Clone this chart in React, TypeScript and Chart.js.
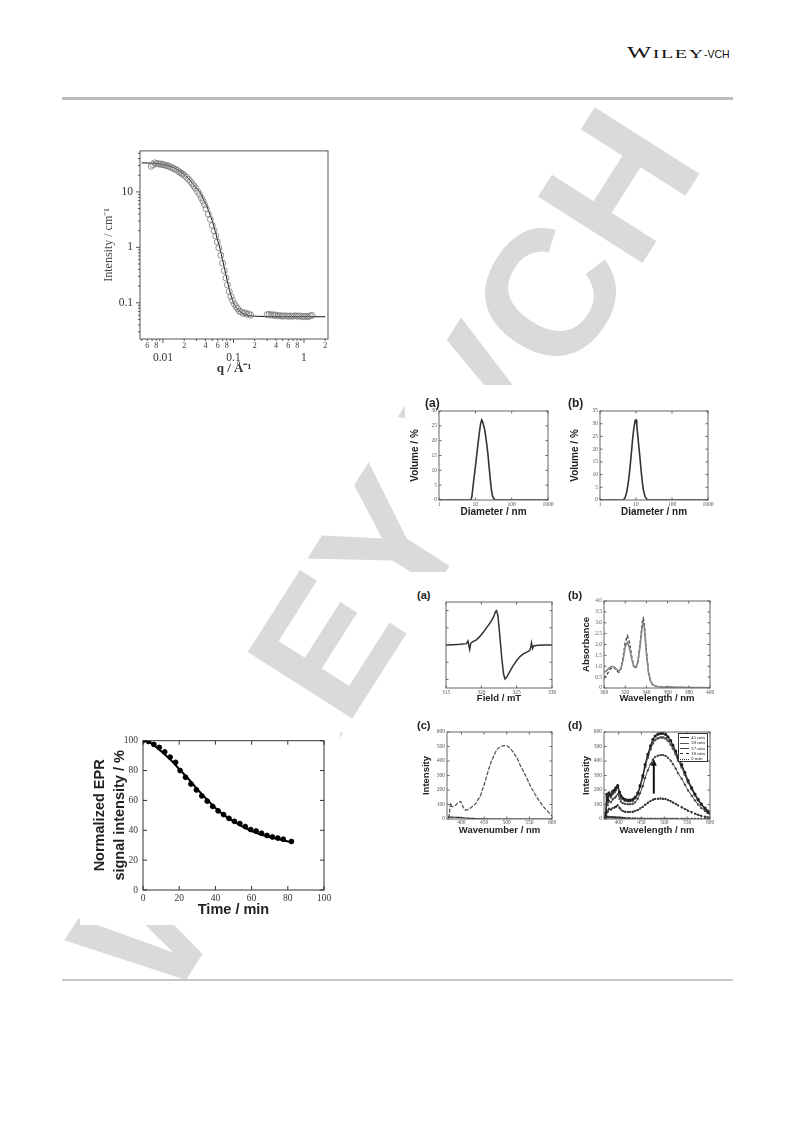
import React, { useEffect, useRef } from 'react';
import { Chart, registerables } from 'chart.js';

Chart.register(...registerables);

const SERIF = "'Liberation Serif', 'Times New Roman', serif";
const SANS = "'Liberation Sans', Arial, sans-serif";

// ---------------- SAXS (top left) ----------------
const saxsFitQ = [0.005, 0.007, 0.009, 0.011, 0.013, 0.015, 0.018, 0.021, 0.024, 0.027, 0.030, 0.034, 0.038, 0.042, 0.046, 0.050, 0.055, 0.060, 0.065, 0.070, 0.075, 0.080, 0.085, 0.090, 0.095, 0.100, 0.110, 0.120, 0.135, 0.150, 0.180, 0.220, 0.300, 0.500, 1.0, 2.0];
const saxsFitI = [33.5, 33, 32, 30.5, 28.5, 26.5, 23, 19.5, 16.5, 13.5, 11.5, 9.5, 7, 5.5, 4, 3, 1.95, 1.3, 0.9, 0.6, 0.4, 0.28, 0.2, 0.15, 0.12, 0.1, 0.082, 0.072, 0.065, 0.061, 0.058, 0.057, 0.0565, 0.0562, 0.056, 0.056];
const saxsQ = [0.0068, 0.0072, 0.0076, 0.008, 0.0085, 0.009, 0.0095, 0.010, 0.0106, 0.0112, 0.0118, 0.0125, 0.0133, 0.0141, 0.015, 0.016, 0.017, 0.018, 0.019, 0.020, 0.0215, 0.023, 0.0245, 0.026, 0.0275, 0.029, 0.031, 0.033, 0.035, 0.037, 0.039, 0.041, 0.044, 0.047, 0.050, 0.053, 0.056, 0.059, 0.062, 0.066, 0.070, 0.074, 0.078, 0.082, 0.087, 0.092, 0.097, 0.103, 0.109, 0.115, 0.122, 0.130, 0.138, 0.146, 0.155, 0.165, 0.175];
const saxsI = [29, 31, 33.5, 32, 32.5, 31.5, 32, 31, 30.5, 30, 29.5, 28.5, 27.5, 26.5, 25.5, 24.5, 23, 22, 21, 20, 18.5, 17, 15.5, 14, 12.8, 11.6, 10.2, 9, 7.8, 6.8, 5.9, 5.0, 4.0, 3.2, 2.5, 2.0, 1.6, 1.25, 0.98, 0.72, 0.52, 0.38, 0.28, 0.21, 0.16, 0.13, 0.11, 0.095, 0.085, 0.078, 0.07, 0.068, 0.064, 0.066, 0.062, 0.063, 0.06];
const saxsQ2 = [0.30, 0.32, 0.34, 0.36, 0.38, 0.40, 0.43, 0.46, 0.49, 0.52, 0.56, 0.60, 0.64, 0.68, 0.73, 0.78, 0.83, 0.89, 0.95, 1.01, 1.08, 1.15, 1.22, 1.30];
const saxsI2 = [0.061, 0.062, 0.06, 0.061, 0.059, 0.06, 0.058, 0.059, 0.057, 0.058, 0.058, 0.057, 0.058, 0.057, 0.058, 0.058, 0.057, 0.058, 0.056, 0.057, 0.057, 0.056, 0.058, 0.059];
const saxsXTickValues = [0.005, 0.006, 0.007, 0.008, 0.009, 0.01, 0.02, 0.03, 0.04, 0.05, 0.06, 0.07, 0.08, 0.09, 0.1, 0.2, 0.3, 0.4, 0.5, 0.6, 0.7, 0.8, 0.9, 1, 2];
const saxsXTickLabels = ['', '6', '', '8', '', '0.01', '2', '', '4', '', '6', '', '8', '', '0.1', '2', '', '4', '', '6', '', '8', '', '1', '2'];
const saxsXMajor = [0.01, 0.1, 1];
const saxsYTickValues = [0.03, 0.04, 0.05, 0.06, 0.07, 0.08, 0.09, 0.1, 0.2, 0.3, 0.4, 0.5, 0.6, 0.7, 0.8, 0.9, 1, 2, 3, 4, 5, 6, 7, 8, 9, 10, 20, 30, 40, 50];
const saxsYMajor = [0.1, 1, 10];

// ---------------- DLS ----------------
const dlsADiam = [1, 7.5, 8, 8.5, 9, 10, 11, 12, 13, 14, 15, 16, 17, 18, 19, 20, 22, 24, 26, 28, 30, 33, 36, 1000];
const dlsAVol = [0, 0, 1, 3.8, 6.5, 11, 15.5, 19.5, 23, 25.8, 27, 26.3, 25, 23.8, 22, 20, 16, 11, 6.5, 3, 1.2, 0.3, 0, 0];
const dlsBDiam = [1, 4.5, 5, 5.5, 6, 6.5, 7, 7.5, 8, 8.5, 9, 9.5, 10, 10.5, 11, 12, 13, 14, 15, 16, 18, 20, 22, 1000];
const dlsBVol = [0, 0, 1, 3, 6, 10, 14.5, 19, 23.5, 27, 29.5, 31.3, 31.5, 29.5, 26.5, 21, 16, 11, 7, 4, 1.2, 0.3, 0, 0];
const dlsXTicks = [1, 10, 100, 1000];

// ---------------- EPR spectrum ----------------
const eprField = [315, 316, 317, 317.9, 318.1, 318.25, 318.35, 318.5, 318.8, 319.3, 319.8, 320.3, 320.8, 321.3, 321.7, 322.0, 322.15, 322.35, 322.6, 322.9, 323.15, 323.35, 323.6, 324.0, 324.5, 325.0, 325.5, 326.0, 326.5, 326.85, 327.0, 327.1, 327.25, 327.4, 328, 329, 330];
const eprSignal = [0, 0.01, 0.02, 0.04, 0.12, -0.03, -0.13, 0.05, 0.1, 0.15, 0.25, 0.38, 0.52, 0.66, 0.8, 0.97, 1.0, 0.85, 0.3, -0.4, -0.85, -0.99, -0.93, -0.78, -0.6, -0.45, -0.33, -0.25, -0.2, -0.16, -0.06, 0.06, -0.1, -0.03, -0.01, 0, 0];

// ---------------- Absorbance ----------------
const absWl = [300, 302, 304, 306, 308, 310, 312, 314, 316, 318, 320, 322, 324, 326, 328, 330, 332, 334, 336, 337, 338, 340, 342, 344, 346, 348, 350, 355, 360, 370, 380, 390, 400];
const absSolid = [0.72, 0.78, 0.88, 0.97, 1.0, 0.95, 0.85, 0.78, 0.9, 1.3, 1.9, 2.1, 1.85, 1.35, 1.0, 0.95, 1.2, 1.9, 2.8, 3.0, 2.8, 1.6, 0.7, 0.3, 0.15, 0.1, 0.07, 0.05, 0.04, 0.03, 0.02, 0.015, 0.01];
const absDashed = [0.45, 0.55, 0.72, 0.88, 0.95, 0.92, 0.8, 0.72, 0.88, 1.4, 2.1, 2.4, 2.1, 1.5, 1.0, 0.9, 1.2, 2.0, 3.0, 3.2, 3.0, 1.7, 0.75, 0.3, 0.15, 0.1, 0.07, 0.05, 0.04, 0.03, 0.02, 0.015, 0.01];

// ---------------- Fluorescence (c) ----------------
const cWl = [370, 372, 374, 376, 379, 383, 387, 391, 394, 398, 402, 405, 409, 414, 420, 425, 431, 436, 442, 447, 453, 458, 464, 470, 475, 480, 486, 492, 497, 503, 508, 514, 519, 525, 530, 538, 545, 552, 560, 567, 574, 581, 589, 595, 600];
const cMain = [10, 15, 60, 110, 85, 88, 95, 108, 112, 122, 95, 75, 62, 65, 76, 88, 104, 130, 162, 210, 265, 320, 380, 425, 460, 485, 497, 505, 508, 500, 485, 462, 438, 405, 369, 322, 277, 230, 185, 148, 115, 85, 58, 38, 23];
const cBase = [14, 14, 13, 13, 13, 12, 12, 11, 11, 10, 9, 8, 7, 6, 5, 4, 3, 2, 2, 1, 1, 1, 0, 0, 0, 0, 0, 0, 0, 0, 0, 0, 0, 0, 0, 0, 0, 0, 0, 0, 0, 0, 0, 0, 0];

// ---------------- Fluorescence (d) ----------------
const dWl = [370, 372, 374, 376, 379, 383, 387, 391, 394, 398, 402, 405, 409, 414, 420, 425, 431, 436, 442, 447, 453, 458, 464, 470, 475, 480, 486, 492, 497, 503, 508, 514, 519, 525, 530, 538, 545, 552, 560, 567, 574, 581, 589, 595, 600];
const d45 = [15, 40, 170, 130, 180, 165, 190, 200, 215, 230, 185, 160, 145, 135, 130, 130, 135, 150, 180, 230, 300, 375, 445, 505, 548, 572, 585, 590, 591, 583, 566, 540, 508, 468, 425, 375, 320, 265, 215, 172, 135, 103, 75, 55, 42];
const d38 = [15, 35, 150, 120, 165, 150, 175, 185, 200, 215, 175, 150, 138, 128, 124, 124, 128, 143, 172, 220, 287, 358, 425, 482, 522, 545, 557, 562, 562, 555, 539, 514, 484, 446, 405, 357, 305, 253, 205, 164, 129, 98, 72, 53, 40];
const d27 = [10, 25, 110, 95, 125, 115, 135, 145, 155, 170, 140, 120, 110, 105, 102, 102, 105, 115, 140, 178, 228, 283, 336, 380, 410, 428, 437, 441, 441, 435, 422, 402, 378, 348, 316, 278, 237, 197, 160, 128, 100, 76, 56, 41, 31];
const d18 = [5, 10, 60, 50, 70, 65, 75, 80, 85, 95, 78, 65, 55, 50, 48, 48, 50, 55, 62, 72, 85, 98, 112, 124, 133, 138, 140, 141, 140, 137, 131, 123, 114, 104, 94, 81, 69, 57, 46, 37, 29, 22, 16, 12, 9];
const d0 = [15, 15, 14, 14, 13, 12, 12, 11, 10, 10, 9, 8, 7, 6, 5, 4, 3, 3, 2, 2, 1, 1, 1, 1, 0, 0, 0, 0, 0, 0, 0, 0, 0, 0, 0, 0, 0, 0, 0, 0, 0, 0, 0, 0, 0];
const dLegend = ['45 min', '38 min', '27 min', '18 min', '0 min'];
const fluoXTicks = [400, 450, 500, 550, 600];
const dArrowX = 477;
const dArrowFrom = 175;
const dArrowTo = 415;

// ---------------- EPR decay (bottom left) ----------------
const decayT = [0, 3, 6, 9, 12, 15, 18, 20.5, 23.5, 26.5, 29.5, 32.5, 35.5, 38.5, 41.5, 44.5, 47.5, 50.5, 53.5, 56.5, 59.5, 62.5, 65.5, 68.5, 71.5, 74.5, 77.5, 82];
const decayV = [100, 99.5, 97.5, 95.5, 92.5, 89, 85.5, 80, 75.5, 71, 67, 63, 59.5, 56, 53, 50.5, 48, 46, 44.5, 42.5, 40.5, 39.5, 38, 36.5, 35.5, 34.8, 34, 32.5];
const fitT = [0, 3, 6, 10, 15, 20, 25, 30, 35, 40, 45, 50, 55, 60, 65, 70, 75, 82];
const fitV = [100, 99.5, 97, 93, 87.5, 81, 74.5, 67.5, 61, 55, 50, 46, 42.5, 39.5, 37.2, 35.5, 34, 32];

type Rect = { l: number; t: number; r: number; b: number };

const pts = (xs: number[], ys: number[]) => xs.map((x, i) => ({ x, y: ys[i] }));

const framePlugin = {
  id: 'frame',
  afterDraw(chart: any, _a: any, o: any) {
    if (!o || !o.on) return;
    const { ctx, chartArea: a, scales } = chart;
    ctx.save();
    ctx.strokeStyle = o.color;
    ctx.lineWidth = o.width;
    ctx.strokeRect(a.left, a.top, a.right - a.left, a.bottom - a.top);
    const dir = o.dir;
    const seg = (x1: number, y1: number, x2: number, y2: number) => {
      ctx.beginPath();
      ctx.moveTo(x1, y1);
      ctx.lineTo(x2, y2);
      ctx.stroke();
    };
    const doX = (vals: any, len: number) => {
      if (!vals) return;
      for (let i = 0; i < vals.length; i++) {
        const p = scales.x.getPixelForValue(vals[i]);
        if (p < a.left - 0.5 || p > a.right + 0.5) continue;
        seg(p, a.bottom, p, a.bottom - dir * len);
        if (o.mirror) seg(p, a.top, p, a.top + dir * len);
      }
    };
    const doY = (vals: any, len: number) => {
      if (!vals) return;
      for (let i = 0; i < vals.length; i++) {
        const p = scales.y.getPixelForValue(vals[i]);
        if (p < a.top - 0.5 || p > a.bottom + 0.5) continue;
        seg(a.left, p, a.left + dir * len, p);
        if (o.mirror) seg(a.right, p, a.right - dir * len, p);
      }
    };
    doX(o.xMajor, o.len);
    doX(o.xMinor, o.minorLen);
    doY(o.yMajor, o.len);
    doY(o.yMinor, o.minorLen);
    ctx.restore();
  },
};

const arrowPlugin = {
  id: 'arrow',
  afterDatasetsDraw(chart: any, _a: any, o: any) {
    if (!o || !o.on) return;
    const { ctx, scales } = chart;
    const x = scales.x.getPixelForValue(o.x);
    const y0 = scales.y.getPixelForValue(o.from);
    const y1 = scales.y.getPixelForValue(o.to);
    ctx.save();
    ctx.strokeStyle = '#111';
    ctx.fillStyle = '#111';
    ctx.lineWidth = 2;
    ctx.beginPath();
    ctx.moveTo(x, y0);
    ctx.lineTo(x, y1 + 5);
    ctx.stroke();
    ctx.beginPath();
    ctx.moveTo(x, y1);
    ctx.lineTo(x - 3, y1 + 7);
    ctx.lineTo(x + 3, y1 + 7);
    ctx.closePath();
    ctx.fill();
    ctx.restore();
  },
};

Chart.register(framePlugin as any, arrowPlugin as any);

function makeOptions(c: Rect, p: Rect, xOpt: any, yOpt: any, plugins: any) {
  return {
    responsive: false,
    maintainAspectRatio: false,
    animation: false,
    events: [],
    layout: { padding: { top: p.t - c.t, right: c.r - p.r, left: 0, bottom: 0 } },
    plugins: { legend: { display: false }, tooltip: { enabled: false }, ...plugins },
    scales: {
      x: {
        grid: { display: false, drawTicks: false },
        border: { display: false },
        ...xOpt,
        afterFit: (s: any) => {
          s.height = c.b - p.b;
        },
      },
      y: {
        grid: { display: false, drawTicks: false },
        border: { display: false },
        ...yOpt,
        afterFit: (s: any) => {
          s.width = p.l - c.l;
        },
      },
    },
  };
}

const tiny = (extra: any = {}) => ({
  font: { family: SERIF, size: 5.5, lineHeight: 1.2 },
  color: '#555',
  padding: 2,
  maxRotation: 0,
  minRotation: 0,
  autoSkip: false,
  ...extra,
});

const ttl = (text: any, size: number, lh = 1.2) => ({
  display: true,
  text,
  font: { family: SANS, size, weight: 'bold', lineHeight: lh },
  color: '#222',
  padding: 0,
});

const frame = (o: any) => ({ on: true, color: '#666', width: 1, dir: 1, len: 2.5, minorLen: 1.5, mirror: true, ...o });

const setTicks = (vals: number[]) => (s: any) => {
  s.ticks = vals.map((v) => ({ value: v }));
};

function Plot({ c, p, build }: { c: Rect; p: Rect; build: (c: Rect, p: Rect) => any }) {
  const ref = useRef<HTMLCanvasElement>(null);
  useEffect(() => {
    const chart = new Chart(ref.current as HTMLCanvasElement, build(c, p));
    return () => chart.destroy();
  }, []);
  const w = c.r - c.l;
  const h = c.b - c.t;
  return (
    <canvas
      ref={ref}
      width={w}
      height={h}
      style={{ position: 'absolute', left: c.l, top: c.t, width: w, height: h, display: 'block' }}
    />
  );
}

// ---------- configs ----------
const saxsBuild = (c: Rect, p: Rect) => ({
  type: 'line',
  data: {
    datasets: [
      { data: pts(saxsQ, saxsI), showLine: false, pointRadius: 3, pointBorderWidth: 0.8, borderColor: '#777', backgroundColor: 'rgba(0,0,0,0)' },
      { data: pts(saxsQ2, saxsI2), showLine: false, pointRadius: 3, pointBorderWidth: 0.8, borderColor: '#777', backgroundColor: 'rgba(0,0,0,0)' },
      { data: pts(saxsFitQ, saxsFitI), borderColor: '#111', borderWidth: 1, pointRadius: 0, cubicInterpolationMode: 'monotone' },
    ],
  },
  options: makeOptions(
    c,
    p,
    {
      type: 'logarithmic',
      min: 0.00472,
      max: 2.19,
      afterBuildTicks: setTicks(saxsXTickValues),
      ticks: {
        autoSkip: false,
        maxRotation: 0,
        minRotation: 0,
        padding: 3,
        color: '#333',
        callback: (_v: any, i: number) =>
          saxsXMajor.includes(saxsXTickValues[i]) ? ['', saxsXTickLabels[i]] : saxsXTickLabels[i],
        font: (ctx: any) =>
          ctx.tick && saxsXMajor.includes(ctx.tick.value)
            ? { family: SERIF, size: 11.5, lineHeight: 0.9 }
            : { family: SERIF, size: 8, lineHeight: 1 },
      },
      title: { display: true, text: 'q / Å⁻¹', font: { family: SERIF, size: 13, lineHeight: 1.2, weight: 'bold' }, color: '#333', padding: 0 },
    },
    {
      type: 'logarithmic',
      min: 0.0222,
      max: 55,
      afterBuildTicks: setTicks(saxsYTickValues),
      ticks: {
        autoSkip: false,
        padding: 7,
        color: '#333',
        font: { family: SERIF, size: 11.5 },
        callback: (_v: any, i: number) => (saxsYMajor.includes(saxsYTickValues[i]) ? String(saxsYTickValues[i]) : ''),
      },
      title: { display: true, text: 'Intensity / cm⁻¹', font: { family: SERIF, size: 12, lineHeight: 1.2 }, color: '#444', padding: 0 },
    },
    {
      frame: frame({
        color: '#555',
        dir: -1,
        len: 4,
        minorLen: 2,
        mirror: false,
        xMajor: saxsXMajor,
        xMinor: saxsXTickValues.filter((v) => !saxsXMajor.includes(v)),
        yMajor: saxsYMajor,
        yMinor: saxsYTickValues.filter((v) => !saxsYMajor.includes(v)),
      }),
    }
  ),
});

const dlsBuild = (diam: number[], vol: number[], yMax: number) => (c: Rect, p: Rect) => ({
  type: 'line',
  data: { datasets: [{ data: pts(diam, vol), borderColor: '#333', borderWidth: 1.6, pointRadius: 0 }] },
  options: makeOptions(
    c,
    p,
    {
      type: 'logarithmic',
      min: 1,
      max: 1000,
      afterBuildTicks: setTicks(dlsXTicks),
      ticks: tiny({ padding: 1, callback: (v: any) => String(v) }),
      title: ttl('Diameter / nm', 10),
    },
    {
      type: 'linear',
      min: 0,
      max: yMax,
      ticks: tiny({ stepSize: 5 }),
      title: ttl('Volume / %', 10),
    },
    { frame: frame({ xMajor: dlsXTicks, yMajor: Array.from({ length: yMax / 5 + 1 }, (_, i) => i * 5) }) }
  ),
});

const eprBuild = (c: Rect, p: Rect) => ({
  type: 'line',
  data: { datasets: [{ data: pts(eprField, eprSignal), borderColor: '#333', borderWidth: 1.5, pointRadius: 0 }] },
  options: makeOptions(
    c,
    p,
    { type: 'linear', min: 315, max: 330, ticks: tiny({ stepSize: 5, padding: 1 }), title: ttl('Field / mT', 9.5) },
    { type: 'linear', min: -1.25, max: 1.25, ticks: { display: false, stepSize: 0.5 } },
    { frame: frame({ xMajor: [315, 320, 325, 330], yMajor: [-1, -0.5, 0, 0.5, 1] }) }
  ),
});

const absBuild = (c: Rect, p: Rect) => ({
  type: 'line',
  data: {
    datasets: [
      { data: pts(absWl, absSolid), borderColor: '#888', borderWidth: 1.6, pointRadius: 0 },
      { data: pts(absWl, absDashed), borderColor: '#333', borderWidth: 1.3, borderDash: [3, 2], pointRadius: 0 },
    ],
  },
  options: makeOptions(
    c,
    p,
    { type: 'linear', min: 300, max: 400, ticks: tiny({ stepSize: 20, padding: 1 }), title: ttl('Wavelength / nm', 9.5) },
    { type: 'linear', min: 0, max: 4, ticks: tiny({ stepSize: 0.5 }), title: ttl('Absorbance', 9.5) },
    { frame: frame({ xMajor: [300, 320, 340, 360, 380, 400], yMajor: [0, 0.5, 1, 1.5, 2, 2.5, 3, 3.5, 4] }) }
  ),
});

const cBuild = (c: Rect, p: Rect) => ({
  type: 'line',
  data: {
    datasets: [
      { data: pts(cWl, cBase), borderColor: '#222', borderWidth: 1.1, pointRadius: 0 },
      { data: pts(cWl, cMain), borderColor: '#555', borderWidth: 1.3, borderDash: [4, 1.5], pointRadius: 0, cubicInterpolationMode: 'monotone' },
    ],
  },
  options: makeOptions(
    c,
    p,
    {
      type: 'linear',
      min: 368,
      max: 600,
      afterBuildTicks: setTicks(fluoXTicks),
      ticks: tiny({ padding: 0.5 }),
      title: ttl('Wavenumber / nm', 9.5),
    },
    { type: 'linear', min: 0, max: 600, ticks: tiny({ stepSize: 100 }), title: ttl('Intensity', 9.5) },
    { frame: frame({ xMajor: fluoXTicks, yMajor: [0, 100, 200, 300, 400, 500, 600] }) }
  ),
});

const dStyles = [
  { borderColor: '#222', borderWidth: 1.2, pointStyle: 'circle', pointRadius: 1 },
  { borderColor: '#555', borderWidth: 1.1, pointStyle: 'rect', pointRadius: 1 },
  { borderColor: '#444', borderWidth: 1, pointStyle: 'triangle', pointRadius: 1 },
  { borderColor: '#333', borderWidth: 1.1, borderDash: [3, 2], pointStyle: 'crossRot', pointRadius: 1.2 },
  { borderColor: '#333', borderWidth: 1, borderDash: [1, 2], pointStyle: 'circle', pointRadius: 0.9 },
];

const dBuild = (c: Rect, p: Rect) => ({
  type: 'line',
  data: {
    datasets: [d45, d38, d27, d18, d0].map((ys, i) => ({
      label: dLegend[i],
      data: pts(dWl, ys),
      backgroundColor: dStyles[i].borderColor,
      cubicInterpolationMode: 'monotone',
      ...dStyles[i],
    })),
  },
  options: makeOptions(
    c,
    p,
    {
      type: 'linear',
      min: 368,
      max: 600,
      afterBuildTicks: setTicks(fluoXTicks),
      ticks: tiny({ padding: 0.5 }),
      title: ttl('Wavelength / nm', 9.5),
    },
    { type: 'linear', min: 0, max: 600, ticks: tiny({ stepSize: 100 }), title: ttl('Intensity', 9.5) },
    {
      frame: frame({ xMajor: fluoXTicks, yMajor: [0, 100, 200, 300, 400, 500, 600] }),
      arrow: { on: true, x: dArrowX, from: dArrowFrom, to: dArrowTo },
    }
  ),
});

const decayBuild = (c: Rect, p: Rect) => ({
  type: 'line',
  data: {
    datasets: [
      { data: pts(fitT, fitV), borderColor: '#000', borderWidth: 2, pointRadius: 0, cubicInterpolationMode: 'monotone' },
      { data: pts(decayT, decayV), showLine: false, pointRadius: 2.4, borderColor: '#000', backgroundColor: '#000' },
    ],
  },
  options: makeOptions(
    c,
    p,
    {
      type: 'linear',
      min: 0,
      max: 100,
      ticks: { stepSize: 20, font: { family: SERIF, size: 9.5 }, color: '#333', padding: 3, maxRotation: 0 },
      title: ttl('Time / min', 14.5),
    },
    {
      type: 'linear',
      min: 0,
      max: 100,
      ticks: { stepSize: 20, font: { family: SERIF, size: 9.5 }, color: '#333', padding: 5 },
      title: ttl(['Normalized EPR', 'signal intensity / %'], 14.5, 1.38),
    },
    { frame: frame({ color: '#333', len: 4, xMajor: [0, 20, 40, 60, 80, 100], yMajor: [0, 20, 40, 60, 80, 100] }) }
  ),
});

const panelLabel = (text: string, l: number, t: number, size: number) => (
  <div
    key={text + l + t}
    style={{ position: 'absolute', left: l, top: t, fontFamily: SANS, fontWeight: 'bold', fontSize: size, lineHeight: `${size}px`, color: '#222' }}
  >
    {text}
  </div>
);

const white = (l: number, t: number, r: number, b: number) => (
  <div style={{ position: 'absolute', left: l, top: t, width: r - l, height: b - t, background: '#fff' }} />
);

export default function App() {
  return (
    <div style={{ position: 'absolute', left: 0, top: 0, width: 793, height: 1121, background: '#fff', overflow: 'hidden' }}>
      {/* watermark */}
      <div
        style={{
          position: 'absolute',
          left: 385,
          top: 552,
          transform: 'translate(-50%, -50%) rotate(-57.5deg)',
          fontFamily: SANS,
          fontWeight: 'bold',
          fontSize: 180,
          lineHeight: '180px',
          color: '#dadada',
          whiteSpace: 'nowrap',
        }}
      >
        WILEY-VCH
      </div>

      {/* header */}
      <div style={{ position: 'absolute', left: 627, top: 44, whiteSpace: 'nowrap', color: '#111', transform: 'scaleX(1.6)', transformOrigin: 'left top', lineHeight: '18px' }}>
        <span style={{ fontFamily: SERIF, fontSize: 16, letterSpacing: 1 }}>W</span>
        <span style={{ fontFamily: SERIF, fontSize: 12.5, letterSpacing: 1 }}>ILEY</span>
      </div>
      <div style={{ position: 'absolute', left: 704, top: 47, whiteSpace: 'nowrap', color: '#111', fontFamily: SANS, fontSize: 10.5, lineHeight: '14px' }}>-VCH</div>
      <div style={{ position: 'absolute', left: 62, top: 97, width: 671, height: 3, background: '#bdbdbd' }} />
      <div style={{ position: 'absolute', left: 62, top: 979, width: 671, height: 2, background: '#c6c6c6' }} />

      {/* figure backgrounds */}
      {white(95, 115, 345, 395)}
      {white(405, 385, 730, 520)}
      {white(410, 572, 730, 895)}
      {white(80, 718, 340, 925)}

      <Plot c={{ l: 102, t: 137, r: 340, b: 376 }} p={{ l: 140, t: 147, r: 328, b: 339 }} build={saxsBuild} />

      <Plot c={{ l: 409, t: 401, r: 558, b: 518 }} p={{ l: 439, t: 411, r: 548, b: 500 }} build={dlsBuild(dlsADiam, dlsAVol, 30)} />
      <Plot c={{ l: 569, t: 401, r: 718, b: 518 }} p={{ l: 600, t: 411, r: 708, b: 500 }} build={dlsBuild(dlsBDiam, dlsBVol, 35)} />
      {panelLabel('(a)', 425, 397, 12)}
      {panelLabel('(b)', 568, 397, 12)}

      <Plot c={{ l: 436, t: 592, r: 562, b: 704 }} p={{ l: 446, t: 602, r: 552, b: 688 }} build={eprBuild} />
      <Plot c={{ l: 581, t: 591, r: 720, b: 704 }} p={{ l: 604, t: 601, r: 710, b: 688 }} build={absBuild} />
      <Plot c={{ l: 421, t: 722, r: 562, b: 836 }} p={{ l: 447, t: 732, r: 552, b: 819 }} build={cBuild} />
      <Plot c={{ l: 581, t: 722, r: 720, b: 836 }} p={{ l: 604, t: 732, r: 710, b: 819 }} build={dBuild} />
      {panelLabel('(a)', 417, 590, 11)}
      {panelLabel('(b)', 568, 590, 11)}
      {panelLabel('(c)', 417, 720, 11)}
      {panelLabel('(d)', 568, 720, 11)}

      {/* legend of (d) */}
      <div
        style={{
          position: 'absolute',
          left: 678,
          top: 733,
          width: 30,
          height: 29,
          border: '1px solid #333',
          background: '#fff',
          fontFamily: SERIF,
          fontSize: 5,
          lineHeight: '5.6px',
          color: '#222',
          padding: '1px 0 0 1px',
          boxSizing: 'border-box',
        }}
      >
        {dLegend.map((t, i) => (
          <div key={t} style={{ display: 'flex', alignItems: 'center', height: 5.4 }}>
            <span
              style={{
                display: 'inline-block',
                width: 9,
                height: 0,
                borderTop: `1px ${i === 3 ? 'dashed' : i === 4 ? 'dotted' : 'solid'} ${dStyles[i].borderColor}`,
                marginRight: 2,
              }}
            />
            <span>{t}</span>
          </div>
        ))}
      </div>

      <Plot c={{ l: 90, t: 730, r: 336, b: 919 }} p={{ l: 143, t: 740, r: 324, b: 890 }} build={decayBuild} />
    </div>
  );
}
